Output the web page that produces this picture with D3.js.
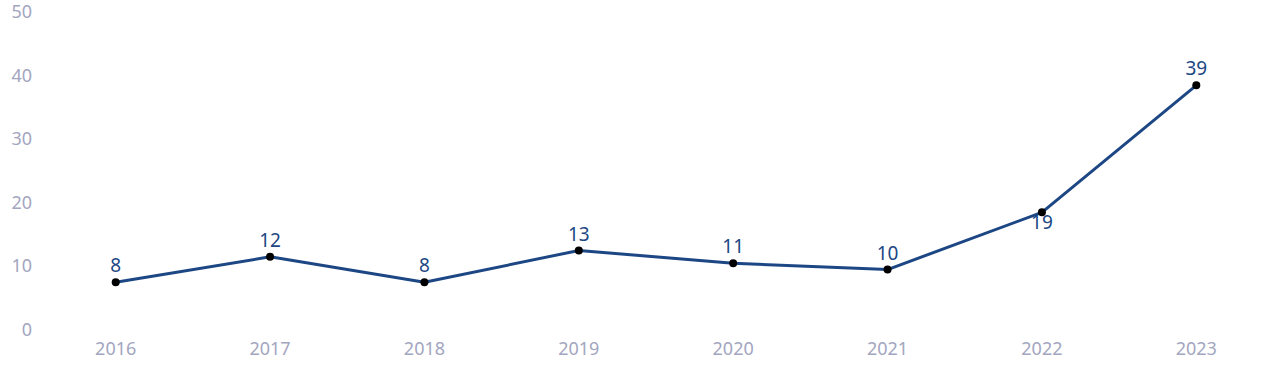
<!DOCTYPE html>
<html><head><meta charset="utf-8">
<script src="https://cdn.jsdelivr.net/npm/d3@7"></script>
<style>body{margin:0;background:#fff}</style>
</head><body>
<svg id="c" width="1280" height="382"></svg>
<script>
const years = ["2016","2017","2018","2019","2020","2021","2022","2023"];
const values = [8, 12, 8, 13, 11, 10, 19, 39];
const labelBelow = [false,false,false,false,false,false,true,false];
const yTicks = [0,10,20,30,40,50];

const svg = d3.select("#c");
const font = "'Noto Sans', sans-serif";
const x = d3.scalePoint().domain(years).range([115.7, 1196.3]);
const y = d3.scaleLinear().domain([0,50]).range([333.1, 15.4]);
const lineColor = "#1c4784";
const tickColor = "#a3a6c0";

// y tick labels
svg.append("g").selectAll("text").data(yTicks).join("text")
  .attr("x", 32).attr("y", d => y(d) - 3.7)
  .attr("dy", "0.35em")
  .attr("text-anchor","end")
  .attr("font-family", font).attr("font-size", 18)
  .attr("fill", tickColor)
  .text(d => d);

// x tick labels
svg.append("g").selectAll("text").data(years).join("text")
  .attr("x", d => x(d)).attr("y", 349)
  .attr("dy", "0.35em")
  .attr("text-anchor","middle")
  .attr("font-family", font).attr("font-size", 18)
  .attr("fill", tickColor)
  .text(d => d);

const pts = years.map((yr,i) => ({yr, v: values[i], below: labelBelow[i]}));

svg.append("path").datum(pts)
  .attr("fill","none").attr("stroke", lineColor).attr("stroke-width", 3)
  .attr("stroke-linejoin","round")
  .attr("d", d3.line().x(d => x(d.yr)).y(d => y(d.v)));

svg.append("g").selectAll("circle").data(pts).join("circle")
  .attr("cx", d => x(d.yr)).attr("cy", d => y(d.v)).attr("r", 4)
  .attr("fill", "#000");

svg.append("g").selectAll("text").data(pts).join("text")
  .attr("x", d => x(d.yr))
  .attr("y", d => d.below ? y(d.v) + 9.5 : y(d.v) - 16.5)
  .attr("dy", "0.35em")
  .attr("text-anchor","middle")
  .attr("font-family", font).attr("font-size", 19)
  .attr("fill", lineColor)
  .text(d => d.v);
</script>
</body></html>
